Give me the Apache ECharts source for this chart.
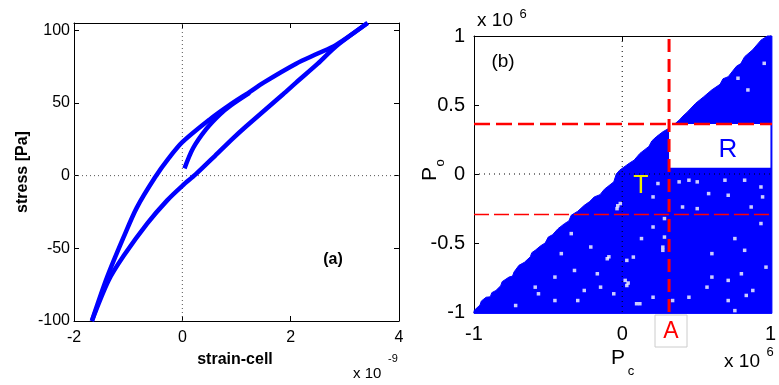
<!DOCTYPE html>
<html><head><meta charset="utf-8">
<script src="https://cdn.jsdelivr.net/npm/echarts@6/dist/echarts.min.js"></script>
<style>html,body{margin:0;padding:0;background:#fff}#c{width:779px;height:385px}</style>
</head><body><div id="c"></div>
<script>
// ---- Panel (a): hysteresis loop (strain x 1e-9, stress Pa) ----
const strainTicks = [-2, 0, 2, 4];
const stressTicks = [-100, -50, 0, 50, 100];
const stressMax = 105;
const unloadBranch = [[3.42,105],[2.84,90],[2.5,84],[2.1,77],[1.5,64],[1.24,57.5],[0.87,48.5],[0.5,38.5],[0,23],[-0.25,12],[-0.5,-1],[-0.84,-22],[-1.08,-42],[-1.39,-70],[-1.67,-100]];
const loadBranch = [[-1.67,-100],[-1.36,-72],[-1.08,-55],[-0.65,-33],[-0.28,-17],[0,-7],[0.25,1],[0.6,13.5],[0.93,25.5],[1.18,34],[1.86,56],[2.1,64],[2.5,77],[2.84,89],[3.42,105]];
const initialBranch = [[0.04,5],[0.2,19],[0.44,32],[0.69,42],[0.9,48.5],[1.24,57]];

// ---- Panel (b): Preisach plane (x 1e6) ----
const pcTicks = [-1, 0, 1];
const poTicks = [-1, -0.5, 0, 0.5, 1];
const diagonalEdge = [[-1.0,-0.99],[-0.96,-0.95],[-0.95,-0.92],[-0.918,-0.893],[-0.89,-0.89],[-0.88,-0.86],[-0.852,-0.844],[-0.82,-0.81],[-0.81,-0.78],[-0.764,-0.747],[-0.74,-0.74],[-0.73,-0.71],[-0.697,-0.662],[-0.66,-0.64],[-0.62,-0.6],[-0.61,-0.57],[-0.587,-0.553],[-0.55,-0.52],[-0.52,-0.5],[-0.499,-0.457],[-0.47,-0.44],[-0.433,-0.396],[-0.39,-0.36],[-0.36,-0.34],[-0.344,-0.299],[-0.3,-0.27],[-0.256,-0.227],[-0.22,-0.2],[-0.189,-0.166],[-0.15,-0.15],[-0.12,-0.11],[-0.057,-0.057],[-0.04,0.0],[-0.017,0.028],[0.05,0.08],[0.08,0.1],[0.119,0.149],[0.18,0.2],[0.2,0.24],[0.23,0.27],[0.274,0.306],[0.33,0.34],[0.384,0.39],[0.41,0.42],[0.44,0.45],[0.495,0.512],[0.55,0.56],[0.605,0.61],[0.66,0.65],[0.68,0.69],[0.715,0.705],[0.77,0.78],[0.8,0.8],[0.826,0.85],[0.88,0.9],[0.936,0.97],[0.98,1.0]];
const triangleCorners = [[1.01,1.0],[1.01,-1.01],[-1.0,-1.01]];
const holes = [[0.241,-0.069],[-0.013,-0.214],[-0.035,-0.251],[-0.03,-0.23],[0.285,-0.323],[0.208,-0.166],[0.384,-0.057],[0.45,-0.045],[0.506,-0.057],[0.693,-0.045],[0.583,-0.142],[0.715,-0.154],[0.826,-0.045],[0.936,-0.094],[0.947,-0.166],[0.87,-0.239],[0.407,-0.239],[0.506,-0.251],[0.285,-0.457],[0.274,-0.553],[0.274,-0.53],[0.208,-0.384],[0.13,-0.468],[-0.101,-0.614],[-0.09,-0.6],[0.031,-0.626],[0.075,-0.602],[-0.212,-0.529],[-0.344,-0.432],[-0.411,-0.577],[-0.322,-0.699],[-0.454,-0.747],[-0.587,-0.82],[-0.719,-0.953],[-0.565,-0.868],[-0.3,-0.917],[-0.146,-0.82],[0.02,-0.771],[0.031,-0.808],[0.04,-0.79],[0.097,-0.94],[0.208,-0.893],[0.45,-0.893],[0.572,-0.82],[0.715,-0.771],[0.804,-0.723],[0.881,-0.844],[0.837,-0.88],[0.605,-0.747],[0.605,-0.577],[0.76,-0.468],[0.826,-0.553],[0.936,-0.359],[0.97,-0.675],[0.715,-0.917],[0.76,-0.99],[-0.454,-0.917],[-0.168,-0.723],[-0.057,-0.868],[0.119,-0.94],[-0.256,-0.844],[0.34,-0.917],[0.958,0.802],[0.781,0.694],[0.848,0.609]];
const thresholdA = 0.316;      // vertical red dashed line (Pc)
const upperPo = 0.362;         // upper red dashed line (Po)
const lowerPo = -0.294;        // lower red dashed line (Po)
const regionR = [[thresholdA, 0.045, 1.0, upperPo]]; // white rectangle [x0,y0,x1,y1]

const FONT = '"Liberation Sans", Arial, Helvetica, sans-serif';
const chart = echarts.init(document.getElementById('c'), null, {renderer:'canvas'});

function axisBase(extra){
  return Object.assign({
    type:'value', splitLine:{show:false},
    axisLine:{show:true, onZero:false, lineStyle:{color:'#000', width:1}},
    axisTick:{show:true, inside:true, length:5, lineStyle:{color:'#000'}},
    axisLabel:{color:'#000', fontFamily:FONT}
  }, extra);
}
const polygonPts = diagonalEdge.concat(triangleCorners);

const option = {
  animation:false,
  grid:[
    {left:74, top:23, width:325, height:298},
    {left:474, top:36, width:302, height:276}
  ],
  xAxis:[
    axisBase({gridIndex:0, min:strainTicks[0], max:strainTicks[strainTicks.length-1], interval:strainTicks[1]-strainTicks[0], position:'bottom', axisLabel:{color:'#000', fontFamily:FONT, fontSize:16, margin:9}}),
    axisBase({gridIndex:0, min:strainTicks[0], max:strainTicks[strainTicks.length-1], interval:strainTicks[1]-strainTicks[0], position:'top', axisLabel:{show:false}}),
    axisBase({gridIndex:1, min:pcTicks[0], max:pcTicks[pcTicks.length-1], interval:pcTicks[1]-pcTicks[0], position:'bottom', axisLabel:{color:'#000', fontFamily:FONT, fontSize:20, margin:12}}),
    axisBase({gridIndex:1, min:pcTicks[0], max:pcTicks[pcTicks.length-1], interval:pcTicks[1]-pcTicks[0], position:'top', axisLabel:{show:false}})
  ],
  yAxis:[
    axisBase({gridIndex:0, min:stressTicks[0], max:stressMax, interval:stressTicks[1]-stressTicks[0], position:'left', axisLabel:{color:'#000', fontFamily:FONT, fontSize:16, margin:4, showMaxLabel:false}}),
    axisBase({gridIndex:0, min:stressTicks[0], max:stressMax, interval:stressTicks[1]-stressTicks[0], position:'right', axisLabel:{show:false}}),
    axisBase({gridIndex:1, min:poTicks[0], max:poTicks[poTicks.length-1], interval:poTicks[1]-poTicks[0], position:'left', axisLabel:{color:'#000', fontFamily:FONT, fontSize:20, margin:9}}),
    axisBase({gridIndex:1, min:poTicks[0], max:poTicks[poTicks.length-1], interval:poTicks[1]-poTicks[0], position:'right', axisLabel:{show:false}})
  ],
  series:[
    {type:'line', xAxisIndex:0, yAxisIndex:0, data:[[0,stressTicks[0]],[0,stressMax]], symbol:'none', lineStyle:{color:'#555', width:1, type:[1,3]}, z:1, silent:true},
    {type:'line', xAxisIndex:0, yAxisIndex:0, data:[[strainTicks[0],0],[strainTicks[strainTicks.length-1],0]], symbol:'none', lineStyle:{color:'#555', width:1, type:[1,3]}, z:1, silent:true},
    {type:'line', xAxisIndex:0, yAxisIndex:0, data:unloadBranch, symbol:'none', smooth:0.3, lineStyle:{color:'#0000ff', width:4.5}, z:3},
    {type:'line', xAxisIndex:0, yAxisIndex:0, data:loadBranch, symbol:'none', smooth:0.3, lineStyle:{color:'#0000ff', width:4.5}, z:3},
    {type:'line', xAxisIndex:0, yAxisIndex:0, data:initialBranch, symbol:'none', smooth:0.3, lineStyle:{color:'#0000ff', width:4.5}, z:3},
    {type:'custom', xAxisIndex:2, yAxisIndex:2, data:polygonPts, clip:false, z:2,
      renderItem:function(params, api){
        if(params.dataIndex!==0) return null;
        const pts = polygonPts.map(p=>api.coord(p));
        return {type:'polygon', shape:{points:pts}, style:{fill:'#0000ff', stroke:'#0000ff', lineWidth:1}};
      }},
    {type:'scatter', xAxisIndex:2, yAxisIndex:2, data:holes, symbol:'rect', symbolSize:3.5, itemStyle:{color:'#ffffff'}, z:3, silent:true},
    {type:'custom', xAxisIndex:2, yAxisIndex:2, data:regionR, z:4,
      renderItem:function(params, api){
        const p0 = api.coord([api.value(0), api.value(3)]);
        const p1 = api.coord([api.value(2), api.value(1)]);
        return {type:'rect', shape:{x:p0[0], y:p0[1], width:p1[0]-p0[0], height:p1[1]-p0[1]}, style:{fill:'#ffffff'}};
      }},
    {type:'line', xAxisIndex:2, yAxisIndex:2, data:[[0,-1],[0,1]], symbol:'none', lineStyle:{color:'#000', width:1, type:[1,4]}, z:5, silent:true},
    {type:'line', xAxisIndex:2, yAxisIndex:2, data:[[-1,0],[1,0]], symbol:'none', lineStyle:{color:'#000', width:1, type:[1,4]}, z:5, silent:true},
    {type:'line', xAxisIndex:2, yAxisIndex:2, data:[[thresholdA,-1],[thresholdA,1]], symbol:'none', lineStyle:{color:'#ff0000', width:3, type:[13,7]}, z:6, silent:true},
    {type:'line', xAxisIndex:2, yAxisIndex:2, data:[[-1,upperPo],[1.02,upperPo]], symbol:'none', lineStyle:{color:'#ff0000', width:2.5, type:[16,6]}, z:6, silent:true},
    {type:'line', xAxisIndex:2, yAxisIndex:2, data:[[-1,lowerPo],[1,lowerPo]], symbol:'none', lineStyle:{color:'#ff0000', width:1.5, type:[15,5]}, z:6, silent:true}
  ],
  graphic:[
    {type:'text', x:23, y:172, rotation:Math.PI/2, z:10, style:{text:'stress [Pa]', font:'bold 16px '+FONT, fill:'#000', align:'center', verticalAlign:'middle'}},
    {type:'text', x:235, y:360, z:10, style:{text:'strain-cell', font:'bold 16px '+FONT, fill:'#000', align:'center', verticalAlign:'middle'}},
    {type:'text', x:353, y:374, z:10, style:{text:'x 10', font:'15px '+FONT, fill:'#000', align:'left', verticalAlign:'middle'}},
    {type:'text', x:388, y:359, z:10, style:{text:'-9', font:'11px '+FONT, fill:'#000', align:'left', verticalAlign:'middle'}},
    {type:'text', x:333, y:260, z:10, style:{text:'(a)', font:'bold 16px '+FONT, fill:'#000', align:'center', verticalAlign:'middle'}},
    {type:'text', x:503, y:62, z:10, style:{text:'(b)', font:'19px '+FONT, fill:'#000', align:'center', verticalAlign:'middle'}},
    {type:'text', x:495, y:21, z:10, style:{text:'x 10', font:'19px '+FONT, fill:'#000', align:'center', verticalAlign:'middle'}},
    {type:'text', x:523, y:14, z:10, style:{text:'6', font:'13px '+FONT, fill:'#000', align:'center', verticalAlign:'middle'}},
    {type:'text', x:742, y:362, z:10, style:{text:'x 10', font:'19px '+FONT, fill:'#000', align:'center', verticalAlign:'middle'}},
    {type:'text', x:770, y:352, z:10, style:{text:'6', font:'13px '+FONT, fill:'#000', align:'center', verticalAlign:'middle'}},
    {type:'text', x:618, y:358, z:10, style:{text:'P', font:'21px '+FONT, fill:'#000', align:'center', verticalAlign:'middle'}},
    {type:'text', x:631, y:371, z:10, style:{text:'c', font:'13px '+FONT, fill:'#000', align:'center', verticalAlign:'middle'}},
    {type:'text', x:430, y:174, rotation:Math.PI/2, z:10, style:{text:'P', font:'21px '+FONT, fill:'#000', align:'center', verticalAlign:'middle'}},
    {type:'text', x:440, y:163, rotation:Math.PI/2, z:10, style:{text:'o', font:'13px '+FONT, fill:'#000', align:'center', verticalAlign:'middle'}},
    {type:'text', x:641, y:186, z:10, style:{text:'T', font:'25px '+FONT, fill:'#eeee00', align:'center', verticalAlign:'middle'}},
    {type:'text', x:728, y:150, z:10, style:{text:'R', font:'26px '+FONT, fill:'#0000ff', align:'center', verticalAlign:'middle'}},
    {type:'rect', z:10, shape:{x:655, y:315, width:32, height:32}, style:{fill:'#fff', stroke:'#cccccc', lineWidth:1}},
    {type:'text', x:671, y:332, z:11, style:{text:'A', font:'23px '+FONT, fill:'#ff0000', align:'center', verticalAlign:'middle'}}
  ]
};
chart.setOption(option);
</script>
</body></html>
